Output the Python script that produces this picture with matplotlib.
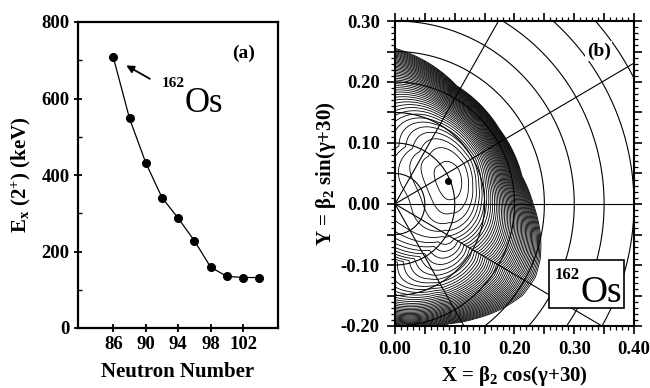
import numpy as np
import matplotlib
import matplotlib.pyplot as plt
from matplotlib.patches import Rectangle
from matplotlib.ticker import MultipleLocator, FuncFormatter

matplotlib.use("Agg")

plt.rcParams["font.family"] = ["Liberation Serif", "DejaVu Serif"]
plt.rcParams["mathtext.fontset"] = "custom"
plt.rcParams["mathtext.rm"] = "Liberation Serif:bold"
plt.rcParams["mathtext.bf"] = "Liberation Serif:bold"
plt.rcParams["mathtext.it"] = "Liberation Serif:italic:bold"

# (a) E(2+) systematics of the Os isotopes
neutrons = [86, 88, 90, 92, 94, 96, 98, 100, 102, 104]
e2_kev = [708, 548, 432, 341, 287, 228, 159, 135, 132, 132]

# (b) potential energy surface of 162Os, shape
min_x, min_y = 0.088, 0.037          # marked minimum
wall_angle = [-90, -65, -55, -45, -35, -27, -20, -12, 0, 12, 35, 62, 90]
wall_beta = [0.205, 0.217, 0.231, 0.247, 0.262, 0.265, 0.260, 0.250,
             0.232, 0.218, 0.214, 0.220, 0.256]
steep_angle = [-90, -60, -30, 0, 30, 60, 90]
steep_power = [3.0, 2.6, 1.5, 2.2, 3.0, 3.0, 2.4]
n_levels = 46
barrier = 4.0
valley = 10.0

grid_beta = [0.05, 0.10, 0.15, 0.20, 0.25, 0.30, 0.35, 0.40, 0.45, 0.50]
grid_angle = [-60, -30, 0, 30, 60]


def surface(X, Y):
    r = np.hypot(X, Y)
    th = np.degrees(np.arctan2(Y, X))
    rm = np.hypot(min_x, min_y)
    thm = np.degrees(np.arctan2(min_y, min_x))
    R = np.interp(th, wall_angle, wall_beta)
    p = np.interp(th, steep_angle, steep_power)
    ang = valley * (1 - np.cos(np.radians(th - thm))) * np.minimum(r / rm, 1) ** 2
    inner = np.where(r < rm, barrier * (1 - (r / rm) ** 2) ** 2, 0.0)
    u = np.clip((r - rm) / (R - rm), 0, None)
    return inner + ang + (n_levels - ang) * u ** p


fig = plt.figure(figsize=(6.5, 3.88), dpi=100)

# ---------------- panel (a)
ax1 = fig.add_axes([78 / 650, 1 - 328 / 388, 200 / 650, 306 / 388])
ax1.plot(neutrons, e2_kev, "-", color="k", lw=0.9)
ax1.plot(neutrons, e2_kev, "o", color="k", ms=5.5)
ax1.set_xlim(81.65, 106.3)
ax1.set_ylim(0, 800)
ax1.set_xticks([86, 90, 94, 98, 102])
ax1.yaxis.set_major_locator(MultipleLocator(200))
ax1.yaxis.set_minor_locator(MultipleLocator(100))
ax1.tick_params(which="major", direction="inout", length=6, width=1.3,
                labelsize=13.5, pad=3)
ax1.tick_params(which="minor", direction="in", length=3, width=1.0)
for s in ax1.spines.values():
    s.set_linewidth(1.6)
ax1.set_xlabel("Neutron Number", fontsize=15, fontweight="bold", labelpad=6)
ax1.set_ylabel(r"E$_\mathregular{x}$ (2$^\mathregular{+}$) (keV)", fontsize=15,
               fontweight="bold", labelpad=6)
ax1.text(102.0, 719, "(a)", ha="center", va="center", fontsize=14, fontweight="bold")
ax1.annotate("", xy=(87.3, 690), xytext=(90.8, 648),
             arrowprops=dict(arrowstyle="-|>", color="k", lw=1.3, mutation_scale=11))
ax1.text(94.8, 565, "Os", ha="left", va="baseline", fontsize=25, fontweight="normal")
ax1.text(94.8, 630, "162", ha="right", va="baseline", fontsize=11, fontweight="bold")

# ---------------- panel (b)
ax2 = fig.add_axes([395 / 650, 1 - 326 / 388, 239 / 650, 305 / 388])
xs = np.linspace(0.0, 0.4, 700)
ys = np.linspace(-0.2, 0.3, 875)
XX, YY = np.meshgrid(xs, ys)
EE = surface(XX, YY)
ax2.contour(XX, YY, EE, levels=np.arange(0.5, n_levels + 0.01, 1.0),
            colors="k", linewidths=0.6)

t = np.radians(np.linspace(-90, 90, 400))
for b in grid_beta:
    ax2.plot(b * np.cos(t), b * np.sin(t), color="k", lw=0.8)
for a in grid_angle:
    ax2.plot([0, 0.7 * np.cos(np.radians(a))], [0, 0.7 * np.sin(np.radians(a))],
             color="k", lw=0.8)
ax2.plot(min_x, min_y, "o", color="k", ms=4)

ax2.set_xlim(0.0, 0.4)
ax2.set_ylim(-0.2, 0.3)
ax2.xaxis.set_major_locator(MultipleLocator(0.05))
ax2.yaxis.set_major_locator(MultipleLocator(0.05))
ax2.xaxis.set_minor_locator(MultipleLocator(0.01))
ax2.yaxis.set_minor_locator(MultipleLocator(0.01))
fmt = FuncFormatter(lambda v, pos: f"{v:.2f}" if abs(round(v * 10) - v * 10) < 1e-6 else "")
ax2.xaxis.set_major_formatter(fmt)
ax2.yaxis.set_major_formatter(fmt)
ax2.tick_params(which="both", direction="out", top=True, right=True)
ax2.tick_params(which="major", length=6, width=1.2, labelsize=13.5, pad=5)
ax2.tick_params(which="minor", length=3, width=0.9)
for s in ax2.spines.values():
    s.set_linewidth(1.5)
ax2.set_xlabel(r"X = β$_\mathregular{2}$ cos(γ+30)", fontsize=15, fontweight="bold", labelpad=4)
ax2.set_ylabel(r"Y = β$_\mathregular{2}$ sin(γ+30)", fontsize=15, fontweight="bold", labelpad=2)

for lab in ax1.get_xticklabels() + ax1.get_yticklabels() + ax2.get_xticklabels() + ax2.get_yticklabels():
    lab.set_fontweight("bold")

ax2.text(0.341, 0.251, "(b)", ha="center", va="center", fontsize=14, zorder=6,
         fontweight="bold", bbox=dict(fc="white", ec="none", pad=1))
ax2.add_patch(Rectangle((0.258, -0.170), 0.125, 0.078, fc="white", ec="k",
                        lw=1.2, zorder=6))
ax2.text(0.310, -0.161, "Os", ha="left", va="baseline", fontsize=27,
         fontweight="normal", zorder=7)
ax2.text(0.310, -0.123, "162", ha="right", va="baseline", fontsize=12,
         fontweight="bold", zorder=7)

fig.savefig("out.png", dpi=100)
